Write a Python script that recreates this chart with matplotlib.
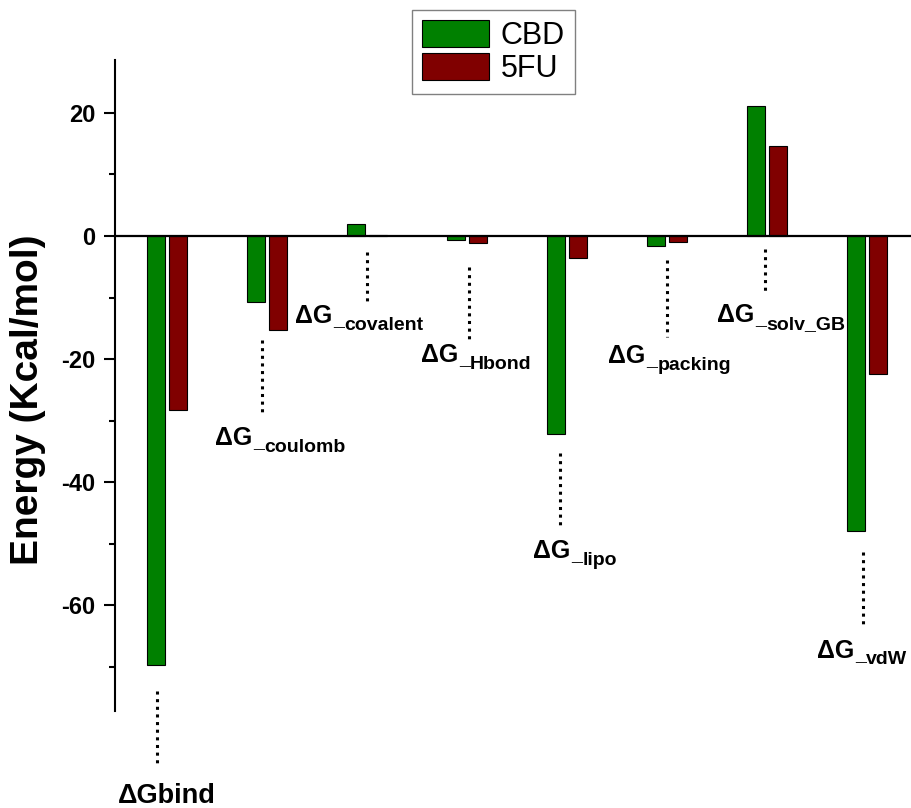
import numpy as np
import matplotlib
matplotlib.use("Agg")
import matplotlib.pyplot as plt

# Free energy components (kcal/mol) for the two ligands
terms = ["bind", "coulomb", "covalent", "Hbond", "lipo", "packing", "solv_GB", "vdW"]
cbd = [-69.7, -10.7, 2.0, -0.6, -32.2, -1.7, 21.1, -48.0]
fu5 = [-28.3, -15.3, 0.2, -1.2, -3.5, -0.9, 14.6, -22.5]

# Where each term's label and dotted leader sit (data coords):
# (leader x, leader top, leader bottom, label x, label baseline)
label_spots = [
    (-0.10, -74.0, -86.0, -0.49, -92.2),
    (0.95, -16.9, -29.3, 0.48, -34.0),
    (2.00, -2.6, -10.9, 1.28, -14.1),
    (3.02, -5.0, -17.4, 2.54, -20.5),
    (3.93, -35.3, -47.3, 3.66, -52.4),
    (5.00, -3.9, -16.4, 4.41, -20.7),
    (5.98, -2.1, -8.9, 5.50, -14.0),
    (6.96, -51.4, -63.3, 6.50, -68.5),
]

GREEN = "#008000"
RED = "#800000"

plt.rcParams["font.family"] = ["Liberation Sans", "DejaVu Sans"]


def draw_label(ax, term, x, y):
    if term == "bind":
        ax.text(x, y, "ΔGbind", fontsize=19.5, fontweight="bold",
                ha="left", va="baseline", clip_on=False)
        return
    big = ax.text(x, y, "ΔG", fontsize=18, fontweight="bold",
                  ha="left", va="baseline", clip_on=False)
    # the leading underscore sits a little higher than the subscript word
    dash = ax.annotate("_", xy=(1, y), xycoords=(big, "data"),
                       xytext=(0.8, -2.2), textcoords="offset points",
                       fontsize=14, fontweight="bold", ha="left", va="baseline",
                       annotation_clip=False)
    ax.annotate(term, xy=(1, y), xycoords=(dash, "data"),
                xytext=(0, -5), textcoords="offset points",
                fontsize=14, fontweight="bold", ha="left", va="baseline",
                annotation_clip=False)


def main():
    fig = plt.figure(figsize=(9.11, 8.08), dpi=100)
    ax = fig.add_axes([0.1262, 0.12, 0.8738, 0.8057])

    x = np.arange(len(terms))
    w = 0.18
    ax.bar(x - 0.1125, cbd, w, color=GREEN, edgecolor="black", linewidth=0.8,
           label="CBD", zorder=2)
    ax.bar(x + 0.1125, fu5, w, color=RED, edgecolor="black", linewidth=0.8,
           label="5FU", zorder=2)
    ax.axhline(0, color="black", linewidth=1.6, zorder=3)

    for term, (lx, top, bot, tx, ty) in zip(terms, label_spots):
        ax.plot([lx, lx], [top, bot], color="black", linewidth=2.2,
                linestyle=(0, (1, 1.5)), clip_on=False)
        draw_label(ax, term, tx, ty)

    ax.set_xlim(-0.52, 7.44)
    ax.set_ylim(-77.2, 28.6)
    ax.set_xticks([])
    ax.set_yticks([20, 0, -20, -40, -60], labels=["20", "0", "-20", "-40", "-60"])
    ax.set_yticks([10, -10, -30, -50, -70], minor=True)
    ax.tick_params(axis="y", which="major", length=8, width=1.5, pad=6,
                   labelsize=17)
    ax.tick_params(axis="y", which="minor", length=4.3, width=1.5)
    for lab in ax.get_yticklabels():
        lab.set_fontweight("bold")

    for side in ("top", "right", "bottom"):
        ax.spines[side].set_visible(False)
    ax.spines["left"].set_linewidth(1.5)

    fig.text(28 / 911, 1 - 400 / 808, "Energy (Kcal/mol)", rotation=90,
             fontsize=28, fontweight="bold", ha="center", va="center")

    leg = ax.legend(loc="upper left", bbox_to_anchor=(412 / 911, 1 - 10 / 808),
                    bbox_transform=fig.transFigure, borderaxespad=0,
                    fontsize=22, handlelength=2.2, handleheight=1.0,
                    labelspacing=0.05, handletextpad=0.38, borderpad=0.33,
                    fancybox=False, framealpha=1)
    leg.get_frame().set_edgecolor("#808080")
    leg.get_frame().set_linewidth(1.0)

    fig.savefig("out.png", dpi=100)


if __name__ == "__main__":
    main()
